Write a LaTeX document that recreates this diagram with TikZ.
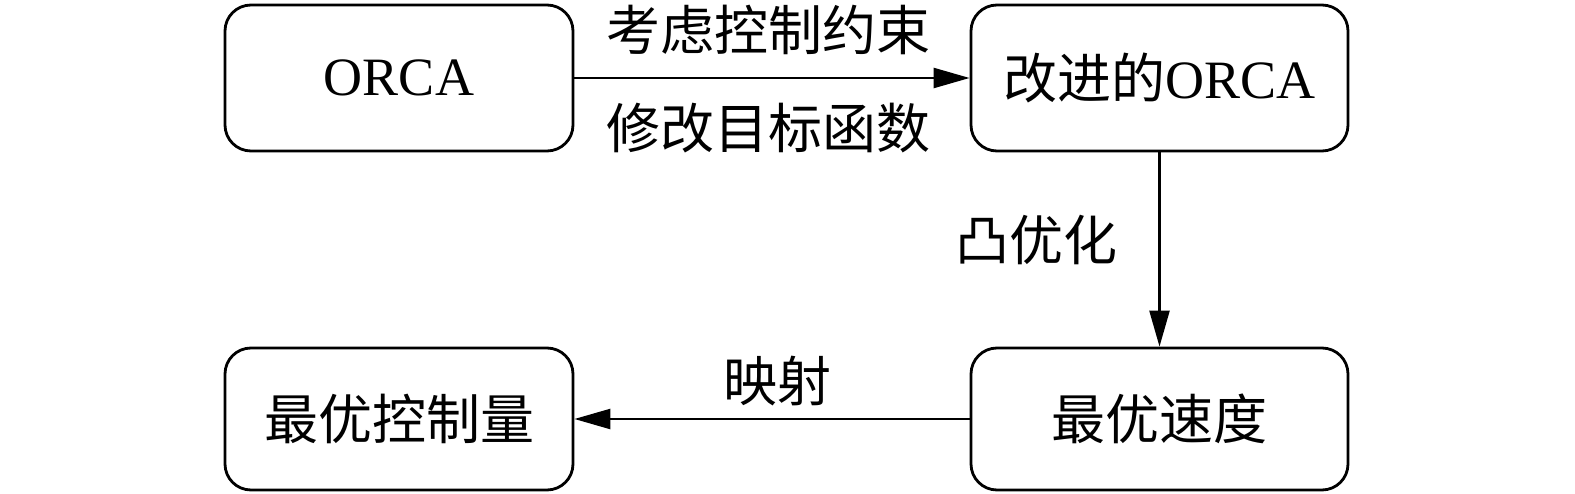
\documentclass[tikz,border=0pt]{standalone}
\usepackage{fontspec}
\setmainfont{Liberation Serif}
\newfontfamily\cjk{Noto Sans CJK SC}
\usetikzlibrary{arrows.meta}
\begin{document}
\begin{tikzpicture}[x=1pt,y=-1pt,
  box/.style={draw, line width=2.8pt, rounded corners=26pt, inner sep=0pt, font=\fontsize{54}{60}\selectfont},
  conn/.style={line width=2.4pt, -{Triangle[length=36pt,width=20pt]}},
  lbl/.style={font=\fontsize{54}{60}\selectfont\cjk, inner sep=0pt}]
\useasboundingbox (0,0) rectangle (1575,494);
\node[box, minimum width=348pt, minimum height=146pt] (orca) at (399,78) {ORCA};
\node[box, minimum width=377pt, minimum height=146pt] (iorca) at (1159.5,78) {{\cjk 改进的}ORCA};
\node[box, minimum width=348pt, minimum height=142pt] (ctrl) at (399,419) {\cjk 最优控制量};
\node[box, minimum width=377pt, minimum height=142pt] (vel) at (1159.5,419) {\cjk 最优速度};
\draw[conn] (orca.east) -- (iorca.west);
\draw[conn] (iorca.south) -- (vel.north);
\draw[conn] (vel.west) -- (ctrl.east);
\node[lbl] (l1) at (768,30) {考虑控制约束};
\node[lbl] (l2) at (768,128) {修改目标函数};
\node[lbl] (l3) at (1036,240) {凸优化};
\node[lbl] (l4) at (777,381) {映射};
\end{tikzpicture}
\end{document}
